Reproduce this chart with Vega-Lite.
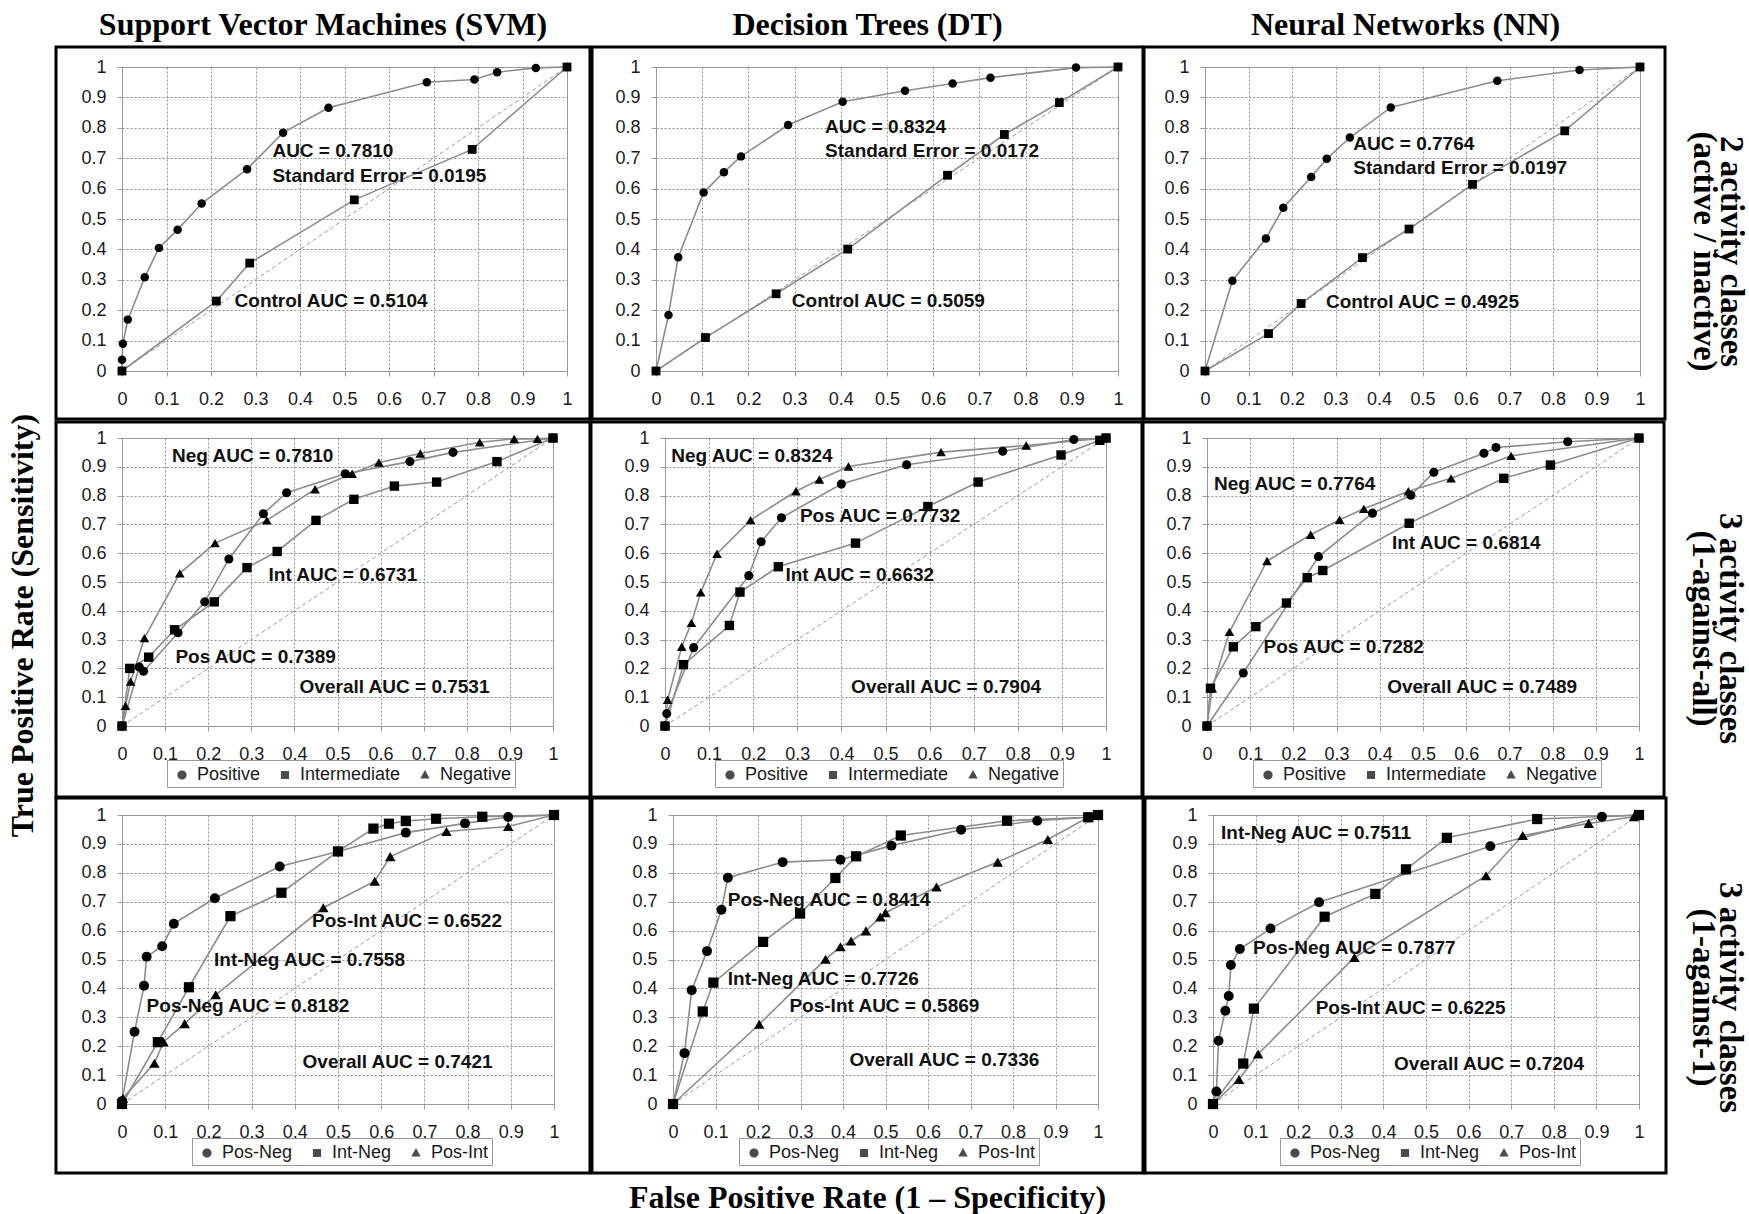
{
"$schema":"https://vega.github.io/schema/vega-lite/v6.json",
"padding":{"left":6,"top":8,"right":8,"bottom":0},
"background":"white",
"title":{"text":"True Positive Rate (Sensitivity)","orient":"left","anchor":"middle","offset":14,"dx":-14},
"config":{
 "view":{"stroke":"#a0a0a0","strokeWidth":1},
 "axis":{"labelFont":"Liberation Sans","labelFontSize":18,"labelColor":"#1a1a1a","tickColor":"#999","domainColor":"#999","gridColor":"#8f8f8f","gridDash":[2,2],"gridWidth":1},
 "legend":{"labelFont":"Liberation Sans","labelFontSize":18,"labelColor":"#1a1a1a","strokeColor":"#999","padding":3,"symbolSize":484,"symbolStrokeWidth":1.3,"symbolFillColor":"black","symbolStrokeColor":"black","columnPadding":10,"labelOffset":3},
 "title":{"font":"Liberation Serif","fontSize":32,"fontWeight":"bold","color":"black"},
 "text":{"font":"Liberation Sans","fontSize":19,"fontWeight":"bold","color":"#111","align":"left","baseline":"middle"}
},
"datasets":{
 "s2":[
  {"s":"Active","x":0,"y":0},{"s":"Active","x":0,"y":0.037},{"s":"Active","x":0.002,"y":0.09},{"s":"Active","x":0.013,"y":0.169},{"s":"Active","x":0.051,"y":0.308},{"s":"Active","x":0.083,"y":0.405},{"s":"Active","x":0.125,"y":0.465},{"s":"Active","x":0.179,"y":0.551},{"s":"Active","x":0.281,"y":0.664},{"s":"Active","x":0.362,"y":0.784},{"s":"Active","x":0.464,"y":0.866},{"s":"Active","x":0.685,"y":0.95},{"s":"Active","x":0.792,"y":0.959},{"s":"Active","x":0.843,"y":0.983},{"s":"Active","x":0.93,"y":0.997},{"s":"Active","x":1,"y":1},
  {"s":"Control","x":0,"y":0},{"s":"Control","x":0.212,"y":0.23},{"s":"Control","x":0.287,"y":0.355},{"s":"Control","x":0.522,"y":0.563},{"s":"Control","x":0.787,"y":0.729},{"s":"Control","x":1,"y":1}],
 "d2":[
  {"s":"Active","x":0,"y":0},{"s":"Active","x":0.027,"y":0.184},{"s":"Active","x":0.048,"y":0.374},{"s":"Active","x":0.103,"y":0.587},{"s":"Active","x":0.147,"y":0.654},{"s":"Active","x":0.184,"y":0.706},{"s":"Active","x":0.286,"y":0.809},{"s":"Active","x":0.404,"y":0.886},{"s":"Active","x":0.539,"y":0.922},{"s":"Active","x":0.642,"y":0.946},{"s":"Active","x":0.724,"y":0.965},{"s":"Active","x":0.909,"y":0.998},{"s":"Active","x":1,"y":1},
  {"s":"Control","x":0,"y":0},{"s":"Control","x":0.107,"y":0.11},{"s":"Control","x":0.26,"y":0.254},{"s":"Control","x":0.415,"y":0.401},{"s":"Control","x":0.631,"y":0.644},{"s":"Control","x":0.754,"y":0.778},{"s":"Control","x":0.873,"y":0.883},{"s":"Control","x":1,"y":1}],
 "n2":[
  {"s":"Active","x":0,"y":0},{"s":"Active","x":0.063,"y":0.297},{"s":"Active","x":0.14,"y":0.436},{"s":"Active","x":0.18,"y":0.537},{"s":"Active","x":0.244,"y":0.638},{"s":"Active","x":0.28,"y":0.698},{"s":"Active","x":0.333,"y":0.768},{"s":"Active","x":0.427,"y":0.867},{"s":"Active","x":0.672,"y":0.955},{"s":"Active","x":0.861,"y":0.99},{"s":"Active","x":1,"y":1},
  {"s":"Control","x":0,"y":0},{"s":"Control","x":0.146,"y":0.123},{"s":"Control","x":0.221,"y":0.222},{"s":"Control","x":0.362,"y":0.373},{"s":"Control","x":0.469,"y":0.467},{"s":"Control","x":0.615,"y":0.614},{"s":"Control","x":0.827,"y":0.79},{"s":"Control","x":1,"y":1}],
 "s3a":[
  {"s":"Positive","x":0,"y":0},{"s":"Positive","x":0.04,"y":0.205},{"s":"Positive","x":0.05,"y":0.19},{"s":"Positive","x":0.13,"y":0.324},{"s":"Positive","x":0.192,"y":0.431},{"s":"Positive","x":0.248,"y":0.58},{"s":"Positive","x":0.328,"y":0.737},{"s":"Positive","x":0.382,"y":0.81},{"s":"Positive","x":0.518,"y":0.876},{"s":"Positive","x":0.668,"y":0.918},{"s":"Positive","x":0.768,"y":0.95},{"s":"Positive","x":1,"y":1},
  {"s":"Intermediate","x":0,"y":0},{"s":"Intermediate","x":0.018,"y":0.2},{"s":"Intermediate","x":0.062,"y":0.239},{"s":"Intermediate","x":0.122,"y":0.334},{"s":"Intermediate","x":0.214,"y":0.431},{"s":"Intermediate","x":0.29,"y":0.55},{"s":"Intermediate","x":0.36,"y":0.606},{"s":"Intermediate","x":0.45,"y":0.714},{"s":"Intermediate","x":0.538,"y":0.787},{"s":"Intermediate","x":0.632,"y":0.833},{"s":"Intermediate","x":0.73,"y":0.847},{"s":"Intermediate","x":0.87,"y":0.918},{"s":"Intermediate","x":1,"y":1},
  {"s":"Negative","x":0,"y":0},{"s":"Negative","x":0.008,"y":0.07},{"s":"Negative","x":0.02,"y":0.154},{"s":"Negative","x":0.052,"y":0.305},{"s":"Negative","x":0.134,"y":0.53},{"s":"Negative","x":0.216,"y":0.635},{"s":"Negative","x":0.336,"y":0.714},{"s":"Negative","x":0.448,"y":0.822},{"s":"Negative","x":0.534,"y":0.876},{"s":"Negative","x":0.596,"y":0.915},{"s":"Negative","x":0.692,"y":0.946},{"s":"Negative","x":0.83,"y":0.985},{"s":"Negative","x":0.91,"y":0.997},{"s":"Negative","x":0.964,"y":0.997},{"s":"Negative","x":1,"y":1}],
 "d3a":[
  {"s":"Positive","x":0,"y":0},{"s":"Positive","x":0.004,"y":0.043},{"s":"Positive","x":0.065,"y":0.272},{"s":"Positive","x":0.19,"y":0.522},{"s":"Positive","x":0.218,"y":0.64},{"s":"Positive","x":0.264,"y":0.723},{"s":"Positive","x":0.4,"y":0.84},{"s":"Positive","x":0.548,"y":0.907},{"s":"Positive","x":0.766,"y":0.954},{"s":"Positive","x":0.927,"y":0.995},{"s":"Positive","x":1,"y":1},
  {"s":"Intermediate","x":0,"y":0},{"s":"Intermediate","x":0.042,"y":0.213},{"s":"Intermediate","x":0.146,"y":0.349},{"s":"Intermediate","x":0.17,"y":0.465},{"s":"Intermediate","x":0.257,"y":0.553},{"s":"Intermediate","x":0.432,"y":0.635},{"s":"Intermediate","x":0.596,"y":0.762},{"s":"Intermediate","x":0.71,"y":0.847},{"s":"Intermediate","x":0.898,"y":0.941},{"s":"Intermediate","x":0.986,"y":0.992},{"s":"Intermediate","x":1,"y":1},
  {"s":"Negative","x":0,"y":0},{"s":"Negative","x":0.006,"y":0.091},{"s":"Negative","x":0.038,"y":0.275},{"s":"Negative","x":0.06,"y":0.358},{"s":"Negative","x":0.081,"y":0.464},{"s":"Negative","x":0.118,"y":0.598},{"s":"Negative","x":0.194,"y":0.715},{"s":"Negative","x":0.297,"y":0.815},{"s":"Negative","x":0.35,"y":0.856},{"s":"Negative","x":0.416,"y":0.901},{"s":"Negative","x":0.626,"y":0.951},{"s":"Negative","x":0.819,"y":0.974},{"s":"Negative","x":1,"y":1}],
 "n3a":[
  {"s":"Positive","x":0,"y":0},{"s":"Positive","x":0.084,"y":0.184},{"s":"Positive","x":0.258,"y":0.588},{"s":"Positive","x":0.383,"y":0.739},{"s":"Positive","x":0.472,"y":0.801},{"s":"Positive","x":0.525,"y":0.881},{"s":"Positive","x":0.641,"y":0.947},{"s":"Positive","x":0.669,"y":0.967},{"s":"Positive","x":0.835,"y":0.987},{"s":"Positive","x":1,"y":1},
  {"s":"Intermediate","x":0,"y":0},{"s":"Intermediate","x":0.008,"y":0.131},{"s":"Intermediate","x":0.061,"y":0.275},{"s":"Intermediate","x":0.113,"y":0.345},{"s":"Intermediate","x":0.184,"y":0.427},{"s":"Intermediate","x":0.232,"y":0.515},{"s":"Intermediate","x":0.268,"y":0.54},{"s":"Intermediate","x":0.468,"y":0.704},{"s":"Intermediate","x":0.687,"y":0.86},{"s":"Intermediate","x":0.795,"y":0.906},{"s":"Intermediate","x":1,"y":1},
  {"s":"Negative","x":0,"y":0},{"s":"Negative","x":0.012,"y":0.131},{"s":"Negative","x":0.052,"y":0.327},{"s":"Negative","x":0.139,"y":0.573},{"s":"Negative","x":0.24,"y":0.664},{"s":"Negative","x":0.307,"y":0.716},{"s":"Negative","x":0.363,"y":0.754},{"s":"Negative","x":0.466,"y":0.815},{"s":"Negative","x":0.565,"y":0.86},{"s":"Negative","x":0.704,"y":0.938},{"s":"Negative","x":1,"y":1}],
 "s3b":[
  {"s":"Pos-Neg","x":0,"y":0},{"s":"Pos-Neg","x":0,"y":0.01},{"s":"Pos-Neg","x":0.029,"y":0.25},{"s":"Pos-Neg","x":0.051,"y":0.409},{"s":"Pos-Neg","x":0.057,"y":0.51},{"s":"Pos-Neg","x":0.093,"y":0.546},{"s":"Pos-Neg","x":0.12,"y":0.624},{"s":"Pos-Neg","x":0.215,"y":0.712},{"s":"Pos-Neg","x":0.365,"y":0.822},{"s":"Pos-Neg","x":0.5,"y":0.874},{"s":"Pos-Neg","x":0.657,"y":0.939},{"s":"Pos-Neg","x":0.794,"y":0.971},{"s":"Pos-Neg","x":0.894,"y":0.993},{"s":"Pos-Neg","x":1,"y":1},
  {"s":"Int-Neg","x":0,"y":0},{"s":"Int-Neg","x":0.083,"y":0.214},{"s":"Int-Neg","x":0.155,"y":0.404},{"s":"Int-Neg","x":0.251,"y":0.65},{"s":"Int-Neg","x":0.369,"y":0.731},{"s":"Int-Neg","x":0.5,"y":0.874},{"s":"Int-Neg","x":0.582,"y":0.953},{"s":"Int-Neg","x":0.618,"y":0.97},{"s":"Int-Neg","x":0.657,"y":0.979},{"s":"Int-Neg","x":0.727,"y":0.987},{"s":"Int-Neg","x":0.834,"y":0.994},{"s":"Int-Neg","x":1,"y":1},
  {"s":"Pos-Int","x":0,"y":0},{"s":"Pos-Int","x":0.002,"y":0.02},{"s":"Pos-Int","x":0.075,"y":0.141},{"s":"Pos-Int","x":0.096,"y":0.215},{"s":"Pos-Int","x":0.145,"y":0.278},{"s":"Pos-Int","x":0.217,"y":0.378},{"s":"Pos-Int","x":0.466,"y":0.679},{"s":"Pos-Int","x":0.585,"y":0.771},{"s":"Pos-Int","x":0.621,"y":0.856},{"s":"Pos-Int","x":0.751,"y":0.943},{"s":"Pos-Int","x":0.894,"y":0.96},{"s":"Pos-Int","x":1,"y":1}],
 "d3b":[
  {"s":"Pos-Neg","x":0,"y":0},{"s":"Pos-Neg","x":0.027,"y":0.176},{"s":"Pos-Neg","x":0.044,"y":0.394},{"s":"Pos-Neg","x":0.08,"y":0.529},{"s":"Pos-Neg","x":0.114,"y":0.672},{"s":"Pos-Neg","x":0.129,"y":0.783},{"s":"Pos-Neg","x":0.258,"y":0.837},{"s":"Pos-Neg","x":0.394,"y":0.845},{"s":"Pos-Neg","x":0.514,"y":0.894},{"s":"Pos-Neg","x":0.678,"y":0.949},{"s":"Pos-Neg","x":0.857,"y":0.98},{"s":"Pos-Neg","x":0.977,"y":0.992},{"s":"Pos-Neg","x":1,"y":1},
  {"s":"Int-Neg","x":0,"y":0},{"s":"Int-Neg","x":0.07,"y":0.32},{"s":"Int-Neg","x":0.095,"y":0.42},{"s":"Int-Neg","x":0.212,"y":0.561},{"s":"Int-Neg","x":0.299,"y":0.659},{"s":"Int-Neg","x":0.382,"y":0.782},{"s":"Int-Neg","x":0.431,"y":0.857},{"s":"Int-Neg","x":0.536,"y":0.929},{"s":"Int-Neg","x":0.786,"y":0.98},{"s":"Int-Neg","x":0.977,"y":0.992},{"s":"Int-Neg","x":1,"y":1},
  {"s":"Pos-Int","x":0,"y":0},{"s":"Pos-Int","x":0.203,"y":0.276},{"s":"Pos-Int","x":0.359,"y":0.501},{"s":"Pos-Int","x":0.394,"y":0.544},{"s":"Pos-Int","x":0.419,"y":0.564},{"s":"Pos-Int","x":0.454,"y":0.599},{"s":"Pos-Int","x":0.488,"y":0.647},{"s":"Pos-Int","x":0.5,"y":0.662},{"s":"Pos-Int","x":0.62,"y":0.751},{"s":"Pos-Int","x":0.764,"y":0.837},{"s":"Pos-Int","x":0.882,"y":0.915},{"s":"Pos-Int","x":0.977,"y":0.992},{"s":"Pos-Int","x":1,"y":1}],
 "n3b":[
  {"s":"Pos-Neg","x":0,"y":0},{"s":"Pos-Neg","x":0.008,"y":0.043},{"s":"Pos-Neg","x":0.013,"y":0.219},{"s":"Pos-Neg","x":0.029,"y":0.323},{"s":"Pos-Neg","x":0.037,"y":0.374},{"s":"Pos-Neg","x":0.042,"y":0.481},{"s":"Pos-Neg","x":0.063,"y":0.536},{"s":"Pos-Neg","x":0.135,"y":0.607},{"s":"Pos-Neg","x":0.249,"y":0.698},{"s":"Pos-Neg","x":0.651,"y":0.892},{"s":"Pos-Neg","x":0.913,"y":0.994},{"s":"Pos-Neg","x":1,"y":1},
  {"s":"Int-Neg","x":0,"y":0},{"s":"Int-Neg","x":0.071,"y":0.14},{"s":"Int-Neg","x":0.096,"y":0.33},{"s":"Int-Neg","x":0.262,"y":0.648},{"s":"Int-Neg","x":0.381,"y":0.727},{"s":"Int-Neg","x":0.453,"y":0.812},{"s":"Int-Neg","x":0.549,"y":0.921},{"s":"Int-Neg","x":0.761,"y":0.986},{"s":"Int-Neg","x":1,"y":1},
  {"s":"Pos-Int","x":0,"y":0},{"s":"Pos-Int","x":0.061,"y":0.085},{"s":"Pos-Int","x":0.106,"y":0.173},{"s":"Pos-Int","x":0.332,"y":0.507},{"s":"Pos-Int","x":0.641,"y":0.79},{"s":"Pos-Int","x":0.727,"y":0.929},{"s":"Pos-Int","x":0.882,"y":0.971},{"s":"Pos-Int","x":0.988,"y":0.994},{"s":"Pos-Int","x":1,"y":1}]
},
"spacing":-3,
"vconcat":[
 {"spacing":-3,"hconcat":[
  {"width":445,"height":304,"title":{"text":"Support Vector Machines (SVM)","frame":"bounds","offset":3},
   "data":{"name":"s2"},
   "resolve":{"axis":{"x":"independent","y":"independent"}},
   "layer":[
    {"data":{"values":[{}]},"mark":{"type":"rect","filled":false,"color":"black","strokeWidth":3,"clip":false},
     "encoding":{"x":{"datum":-0.1483,"type":"quantitative","axis":null},"x2":{"datum":1.0517},"y":{"datum":1.0658,"type":"quantitative","axis":null},"y2":{"datum":-0.1579}}},
    {"data":{"values":[{}]},"mark":{"type":"rule","color":"#999","strokeDash":[4,3],"strokeWidth":1},
     "encoding":{"x":{"datum":0,"type":"quantitative","axis":null},"y":{"datum":0,"type":"quantitative","axis":null},"x2":{"datum":1},"y2":{"datum":1}}},
    {"mark":{"type":"line","color":"#8c8c8c","strokeWidth":1.6},
     "encoding":{"x":{"field":"x","type":"quantitative","scale":{"domain":[0,1],"nice":false,"zero":false},"axis":{"values":[0,0.1,0.2,0.3,0.4,0.5,0.6,0.7,0.8,0.9,1],"format":".1~f","title":null,"grid":true,"labelFlush":false,"labelOverlap":false,"tickSize":5,"labelPadding":14}},
      "y":{"field":"y","type":"quantitative","scale":{"domain":[0,1],"nice":false,"zero":false},"axis":{"values":[0,0.1,0.2,0.3,0.4,0.5,0.6,0.7,0.8,0.9,1],"format":".1~f","title":null,"grid":true,"labelFlush":false,"labelOverlap":false,"tickSize":5,"labelPadding":11}},
      "detail":{"field":"s"},"order":[{"field":"x"},{"field":"y"}]}},
    {"mark":{"type":"point","filled":true,"color":"black","opacity":1},
     "encoding":{"x":{"field":"x","type":"quantitative","axis":null},"y":{"field":"y","type":"quantitative","axis":null},
      "shape":{"field":"s","scale":{"domain":["Active","Control"],"range":["circle","square"]},"legend":null},
      "size":{"field":"s","scale":{"domain":["Active","Control"],"range":[72,110]},"legend":null}}},
    {"data":{"values":[{}]},"mark":{"type":"text"},"encoding":{"x":{"datum":0.338,"type":"quantitative","axis":null},"y":{"datum":0.723,"type":"quantitative","axis":null},"text":{"value":"AUC = 0.7810"}}},
    {"data":{"values":[{}]},"mark":{"type":"text"},"encoding":{"x":{"datum":0.338,"type":"quantitative","axis":null},"y":{"datum":0.642,"type":"quantitative","axis":null},"text":{"value":"Standard Error = 0.0195"}}},
    {"data":{"values":[{}]},"mark":{"type":"text"},"encoding":{"x":{"datum":0.253,"type":"quantitative","axis":null},"y":{"datum":0.23,"type":"quantitative","axis":null},"text":{"value":"Control AUC = 0.5104"}}}
   ]},
  {"width":462,"height":304,"title":{"text":"Decision Trees (DT)","frame":"bounds","offset":3},
   "data":{"name":"d2"},
   "resolve":{"axis":{"x":"independent","y":"independent"}},
   "layer":[
    {"data":{"values":[{}]},"mark":{"type":"rect","filled":false,"color":"black","strokeWidth":3,"clip":false},
     "encoding":{"x":{"datum":-0.1385,"type":"quantitative","axis":null},"x2":{"datum":1.0541},"y":{"datum":1.0658,"type":"quantitative","axis":null},"y2":{"datum":-0.1579}}},
    {"data":{"values":[{}]},"mark":{"type":"rule","color":"#999","strokeDash":[4,3],"strokeWidth":1},
     "encoding":{"x":{"datum":0,"type":"quantitative","axis":null},"y":{"datum":0,"type":"quantitative","axis":null},"x2":{"datum":1},"y2":{"datum":1}}},
    {"mark":{"type":"line","color":"#8c8c8c","strokeWidth":1.6},
     "encoding":{"x":{"field":"x","type":"quantitative","scale":{"domain":[0,1],"nice":false,"zero":false},"axis":{"values":[0,0.1,0.2,0.3,0.4,0.5,0.6,0.7,0.8,0.9,1],"format":".1~f","title":null,"grid":true,"labelFlush":false,"labelOverlap":false,"tickSize":5,"labelPadding":14}},
      "y":{"field":"y","type":"quantitative","scale":{"domain":[0,1],"nice":false,"zero":false},"axis":{"values":[0,0.1,0.2,0.3,0.4,0.5,0.6,0.7,0.8,0.9,1],"format":".1~f","title":null,"grid":true,"labelFlush":false,"labelOverlap":false,"tickSize":5,"labelPadding":11}},
      "detail":{"field":"s"},"order":[{"field":"x"},{"field":"y"}]}},
    {"mark":{"type":"point","filled":true,"color":"black","opacity":1},
     "encoding":{"x":{"field":"x","type":"quantitative","axis":null},"y":{"field":"y","type":"quantitative","axis":null},
      "shape":{"field":"s","scale":{"domain":["Active","Control"],"range":["circle","square"]},"legend":null},
      "size":{"field":"s","scale":{"domain":["Active","Control"],"range":[72,110]},"legend":null}}},
    {"data":{"values":[{}]},"mark":{"type":"text"},"encoding":{"x":{"datum":0.366,"type":"quantitative","axis":null},"y":{"datum":0.803,"type":"quantitative","axis":null},"text":{"value":"AUC = 0.8324"}}},
    {"data":{"values":[{}]},"mark":{"type":"text"},"encoding":{"x":{"datum":0.366,"type":"quantitative","axis":null},"y":{"datum":0.725,"type":"quantitative","axis":null},"text":{"value":"Standard Error = 0.0172"}}},
    {"data":{"values":[{}]},"mark":{"type":"text"},"encoding":{"x":{"datum":0.294,"type":"quantitative","axis":null},"y":{"datum":0.23,"type":"quantitative","axis":null},"text":{"value":"Control AUC = 0.5059"}}}
   ]},
  {"width":435,"height":304,"title":{"text":"Neural Networks (NN)","frame":"group","dx":-17,"offset":3},
   "data":{"name":"n2"},
   "resolve":{"axis":{"x":"independent","y":"independent"}},
   "layer":[
    {"data":{"values":[{}]},"mark":{"type":"rect","filled":false,"color":"black","strokeWidth":3,"clip":false},
     "encoding":{"x":{"datum":-0.1402,"type":"quantitative","axis":null},"x2":{"datum":1.0575},"y":{"datum":1.0658,"type":"quantitative","axis":null},"y2":{"datum":-0.1579}}},
    {"data":{"values":[{}]},"mark":{"type":"rule","color":"#999","strokeDash":[4,3],"strokeWidth":1},
     "encoding":{"x":{"datum":0,"type":"quantitative","axis":null},"y":{"datum":0,"type":"quantitative","axis":{"orient":"right","title":["2 activity classes","(active / inactive)"],"titleFont":"Liberation Serif","titleFontSize":33,"titleFontWeight":"bold","titleColor":"black","titleAngle":90,"titlePadding":46,"titleLineHeight":27,"titleY":184,"labels":false,"ticks":false,"domain":false,"grid":false}},"x2":{"datum":1},"y2":{"datum":1}}},
    {"mark":{"type":"line","color":"#8c8c8c","strokeWidth":1.6},
     "encoding":{"x":{"field":"x","type":"quantitative","scale":{"domain":[0,1],"nice":false,"zero":false},"axis":{"values":[0,0.1,0.2,0.3,0.4,0.5,0.6,0.7,0.8,0.9,1],"format":".1~f","title":null,"grid":true,"labelFlush":false,"labelOverlap":false,"tickSize":5,"labelPadding":14}},
      "y":{"field":"y","type":"quantitative","scale":{"domain":[0,1],"nice":false,"zero":false},"axis":{"values":[0,0.1,0.2,0.3,0.4,0.5,0.6,0.7,0.8,0.9,1],"format":".1~f","title":null,"grid":true,"labelFlush":false,"labelOverlap":false,"tickSize":5,"labelPadding":11}},
      "detail":{"field":"s"},"order":[{"field":"x"},{"field":"y"}]}},
    {"mark":{"type":"point","filled":true,"color":"black","opacity":1},
     "encoding":{"x":{"field":"x","type":"quantitative","axis":null},"y":{"field":"y","type":"quantitative","axis":null},
      "shape":{"field":"s","scale":{"domain":["Active","Control"],"range":["circle","square"]},"legend":null},
      "size":{"field":"s","scale":{"domain":["Active","Control"],"range":[72,110]},"legend":null}}},
    {"data":{"values":[{}]},"mark":{"type":"text"},"encoding":{"x":{"datum":0.341,"type":"quantitative","axis":null},"y":{"datum":0.747,"type":"quantitative","axis":null},"text":{"value":"AUC = 0.7764"}}},
    {"data":{"values":[{}]},"mark":{"type":"text"},"encoding":{"x":{"datum":0.341,"type":"quantitative","axis":null},"y":{"datum":0.667,"type":"quantitative","axis":null},"text":{"value":"Standard Error = 0.0197"}}},
    {"data":{"values":[{}]},"mark":{"type":"text"},"encoding":{"x":{"datum":0.278,"type":"quantitative","axis":null},"y":{"datum":0.227,"type":"quantitative","axis":null},"text":{"value":"Control AUC = 0.4925"}}}
   ]}
 ]},
 {"spacing":-3,"hconcat":[
  {"width":431,"height":288,
   "data":{"name":"s3a"},
   "resolve":{"scale":{"shape":"independent"},"axis":{"x":"independent","y":"independent"}},
   "layer":[
    {"data":{"values":[{}]},"mark":{"type":"rect","filled":false,"color":"black","strokeWidth":3,"clip":false},
     "encoding":{"x":{"datum":-0.1531,"type":"quantitative","axis":null},"x2":{"datum":1.0858},"y":{"datum":1.0556,"type":"quantitative","axis":null},"y2":{"datum":-0.2465}}},
    {"data":{"values":[{}]},"mark":{"type":"rule","color":"#999","strokeDash":[4,3],"strokeWidth":1},
     "encoding":{"x":{"datum":0,"type":"quantitative","axis":null},"y":{"datum":0,"type":"quantitative","axis":null},"x2":{"datum":1},"y2":{"datum":1}}},
    {"mark":{"type":"line","color":"#8c8c8c","strokeWidth":1.6},
     "encoding":{"x":{"field":"x","type":"quantitative","scale":{"domain":[0,1],"nice":false,"zero":false},"axis":{"values":[0,0.1,0.2,0.3,0.4,0.5,0.6,0.7,0.8,0.9,1],"format":".1~f","title":null,"grid":true,"labelFlush":false,"labelOverlap":false,"tickSize":5,"labelPadding":14}},
      "y":{"field":"y","type":"quantitative","scale":{"domain":[0,1],"nice":false,"zero":false},"axis":{"values":[0,0.1,0.2,0.3,0.4,0.5,0.6,0.7,0.8,0.9,1],"format":".1~f","title":null,"grid":true,"labelFlush":false,"labelOverlap":false,"tickSize":5,"labelPadding":11}},
      "detail":{"field":"s"},"order":[{"field":"x"},{"field":"y"}]}},
    {"mark":{"type":"point","filled":true,"color":"black","opacity":1},
     "encoding":{"x":{"field":"x","type":"quantitative","axis":null},"y":{"field":"y","type":"quantitative","axis":null},
      "shape":{"field":"s","scale":{"domain":["Positive","Intermediate","Negative"],"range":["circle","square","triangle-up"]},"legend":null},
      "size":{"field":"s","scale":{"domain":["Positive","Intermediate","Negative"],"range":[68,75,90]},"legend":null}}},
    {"transform":[{"filter":"datum.x > 1"}],"mark":{"type":"point","filled":true,"color":"black","stroke":"black","strokeWidth":1.2},
     "encoding":{"x":{"field":"x","type":"quantitative","axis":null},"y":{"field":"y","type":"quantitative","axis":null},
      "shape":{"field":"s","scale":{"domain":["Positive","Intermediate","Negative"],"range":["M-1,0H1M0.42,0A0.42,0.42,0,1,1,-0.42,0A0.42,0.42,0,1,1,0.42,0Z","M-1,0H1M-0.37,-0.37H0.37V0.37H-0.37Z","M-1,0H1M0,-0.45L0.43,0.31L-0.43,0.31Z"]},
       "legend":{"orient":"none","legendX":45,"legendY":322,"direction":"horizontal","title":null,"symbolSize":484,"encode":{"symbols":{"update":{"size":{"value":484},"stroke":{"value":"black"},"fill":{"value":"black"},"strokeWidth":{"value":1.3},"opacity":{"value":1}}}}}}}},
    {"data":{"values":[{}]},"mark":{"type":"text"},"encoding":{"x":{"datum":0.116,"type":"quantitative","axis":null},"y":{"datum":0.938,"type":"quantitative","axis":null},"text":{"value":"Neg AUC = 0.7810"}}},
    {"data":{"values":[{}]},"mark":{"type":"text"},"encoding":{"x":{"datum":0.34,"type":"quantitative","axis":null},"y":{"datum":0.524,"type":"quantitative","axis":null},"text":{"value":"Int AUC = 0.6731"}}},
    {"data":{"values":[{}]},"mark":{"type":"text"},"encoding":{"x":{"datum":0.124,"type":"quantitative","axis":null},"y":{"datum":0.239,"type":"quantitative","axis":null},"text":{"value":"Pos AUC = 0.7389"}}},
    {"data":{"values":[{}]},"mark":{"type":"text"},"encoding":{"x":{"datum":0.412,"type":"quantitative","axis":null},"y":{"datum":0.134,"type":"quantitative","axis":null},"text":{"value":"Overall AUC = 0.7531"}}}
   ]},
  {"width":441,"height":288,
   "data":{"name":"d3a"},
   "resolve":{"scale":{"shape":"independent"},"axis":{"x":"independent","y":"independent"}},
   "layer":[
    {"data":{"values":[{}]},"mark":{"type":"rect","filled":false,"color":"black","strokeWidth":3,"clip":false},
     "encoding":{"x":{"datum":-0.1678,"type":"quantitative","axis":null},"x2":{"datum":1.0816},"y":{"datum":1.0556,"type":"quantitative","axis":null},"y2":{"datum":-0.2465}}},
    {"data":{"values":[{}]},"mark":{"type":"rule","color":"#999","strokeDash":[4,3],"strokeWidth":1},
     "encoding":{"x":{"datum":0,"type":"quantitative","axis":null},"y":{"datum":0,"type":"quantitative","axis":null},"x2":{"datum":1},"y2":{"datum":1}}},
    {"mark":{"type":"line","color":"#8c8c8c","strokeWidth":1.6},
     "encoding":{"x":{"field":"x","type":"quantitative","scale":{"domain":[0,1],"nice":false,"zero":false},"axis":{"values":[0,0.1,0.2,0.3,0.4,0.5,0.6,0.7,0.8,0.9,1],"format":".1~f","title":null,"grid":true,"labelFlush":false,"labelOverlap":false,"tickSize":5,"labelPadding":14}},
      "y":{"field":"y","type":"quantitative","scale":{"domain":[0,1],"nice":false,"zero":false},"axis":{"values":[0,0.1,0.2,0.3,0.4,0.5,0.6,0.7,0.8,0.9,1],"format":".1~f","title":null,"grid":true,"labelFlush":false,"labelOverlap":false,"tickSize":5,"labelPadding":11}},
      "detail":{"field":"s"},"order":[{"field":"x"},{"field":"y"}]}},
    {"mark":{"type":"point","filled":true,"color":"black","opacity":1},
     "encoding":{"x":{"field":"x","type":"quantitative","axis":null},"y":{"field":"y","type":"quantitative","axis":null},
      "shape":{"field":"s","scale":{"domain":["Positive","Intermediate","Negative"],"range":["circle","square","triangle-up"]},"legend":null},
      "size":{"field":"s","scale":{"domain":["Positive","Intermediate","Negative"],"range":[68,75,90]},"legend":null}}},
    {"transform":[{"filter":"datum.x > 1"}],"mark":{"type":"point","filled":true,"color":"black","stroke":"black","strokeWidth":1.2},
     "encoding":{"x":{"field":"x","type":"quantitative","axis":null},"y":{"field":"y","type":"quantitative","axis":null},
      "shape":{"field":"s","scale":{"domain":["Positive","Intermediate","Negative"],"range":["M-1,0H1M0.42,0A0.42,0.42,0,1,1,-0.42,0A0.42,0.42,0,1,1,0.42,0Z","M-1,0H1M-0.37,-0.37H0.37V0.37H-0.37Z","M-1,0H1M0,-0.45L0.43,0.31L-0.43,0.31Z"]},
       "legend":{"orient":"none","legendX":50,"legendY":322,"direction":"horizontal","title":null,"symbolSize":484,"encode":{"symbols":{"update":{"size":{"value":484},"stroke":{"value":"black"},"fill":{"value":"black"},"strokeWidth":{"value":1.3},"opacity":{"value":1}}}}}}}},
    {"data":{"values":[{}]},"mark":{"type":"text"},"encoding":{"x":{"datum":0.014,"type":"quantitative","axis":null},"y":{"datum":0.938,"type":"quantitative","axis":null},"text":{"value":"Neg AUC = 0.8324"}}},
    {"data":{"values":[{}]},"mark":{"type":"text"},"encoding":{"x":{"datum":0.306,"type":"quantitative","axis":null},"y":{"datum":0.728,"type":"quantitative","axis":null},"text":{"value":"Pos AUC = 0.7732"}}},
    {"data":{"values":[{}]},"mark":{"type":"text"},"encoding":{"x":{"datum":0.273,"type":"quantitative","axis":null},"y":{"datum":0.524,"type":"quantitative","axis":null},"text":{"value":"Int AUC = 0.6632"}}},
    {"data":{"values":[{}]},"mark":{"type":"text"},"encoding":{"x":{"datum":0.422,"type":"quantitative","axis":null},"y":{"datum":0.136,"type":"quantitative","axis":null},"text":{"value":"Overall AUC = 0.7904"}}}
   ]},
  {"width":432,"height":288,
   "data":{"name":"n3a"},
   "resolve":{"scale":{"shape":"independent"},"axis":{"x":"independent","y":"independent"}},
   "layer":[
    {"data":{"values":[{}]},"mark":{"type":"rect","filled":false,"color":"black","strokeWidth":3,"clip":false},
     "encoding":{"x":{"datum":-0.1481,"type":"quantitative","axis":null},"x2":{"datum":1.0579},"y":{"datum":1.0556,"type":"quantitative","axis":null},"y2":{"datum":-0.2465}}},
    {"data":{"values":[{}]},"mark":{"type":"rule","color":"#999","strokeDash":[4,3],"strokeWidth":1},
     "encoding":{"x":{"datum":0,"type":"quantitative","axis":null},"y":{"datum":0,"type":"quantitative","axis":{"orient":"right","title":["3 activity classes","(1-against-all)"],"titleFont":"Liberation Serif","titleFontSize":33,"titleFontWeight":"bold","titleColor":"black","titleAngle":90,"titlePadding":46,"titleLineHeight":27,"titleY":190,"labels":false,"ticks":false,"domain":false,"grid":false}},"x2":{"datum":1},"y2":{"datum":1}}},
    {"mark":{"type":"line","color":"#8c8c8c","strokeWidth":1.6},
     "encoding":{"x":{"field":"x","type":"quantitative","scale":{"domain":[0,1],"nice":false,"zero":false},"axis":{"values":[0,0.1,0.2,0.3,0.4,0.5,0.6,0.7,0.8,0.9,1],"format":".1~f","title":null,"grid":true,"labelFlush":false,"labelOverlap":false,"tickSize":5,"labelPadding":14}},
      "y":{"field":"y","type":"quantitative","scale":{"domain":[0,1],"nice":false,"zero":false},"axis":{"values":[0,0.1,0.2,0.3,0.4,0.5,0.6,0.7,0.8,0.9,1],"format":".1~f","title":null,"grid":true,"labelFlush":false,"labelOverlap":false,"tickSize":5,"labelPadding":11}},
      "detail":{"field":"s"},"order":[{"field":"x"},{"field":"y"}]}},
    {"mark":{"type":"point","filled":true,"color":"black","opacity":1},
     "encoding":{"x":{"field":"x","type":"quantitative","axis":null},"y":{"field":"y","type":"quantitative","axis":null},
      "shape":{"field":"s","scale":{"domain":["Positive","Intermediate","Negative"],"range":["circle","square","triangle-up"]},"legend":null},
      "size":{"field":"s","scale":{"domain":["Positive","Intermediate","Negative"],"range":[68,75,90]},"legend":null}}},
    {"transform":[{"filter":"datum.x > 1"}],"mark":{"type":"point","filled":true,"color":"black","stroke":"black","strokeWidth":1.2},
     "encoding":{"x":{"field":"x","type":"quantitative","axis":null},"y":{"field":"y","type":"quantitative","axis":null},
      "shape":{"field":"s","scale":{"domain":["Positive","Intermediate","Negative"],"range":["M-1,0H1M0.42,0A0.42,0.42,0,1,1,-0.42,0A0.42,0.42,0,1,1,0.42,0Z","M-1,0H1M-0.37,-0.37H0.37V0.37H-0.37Z","M-1,0H1M0,-0.45L0.43,0.31L-0.43,0.31Z"]},
       "legend":{"orient":"none","legendX":46,"legendY":322,"direction":"horizontal","title":null,"symbolSize":484,"encode":{"symbols":{"update":{"size":{"value":484},"stroke":{"value":"black"},"fill":{"value":"black"},"strokeWidth":{"value":1.3},"opacity":{"value":1}}}}}}}},
    {"data":{"values":[{}]},"mark":{"type":"text"},"encoding":{"x":{"datum":0.016,"type":"quantitative","axis":null},"y":{"datum":0.84,"type":"quantitative","axis":null},"text":{"value":"Neg AUC = 0.7764"}}},
    {"data":{"values":[{}]},"mark":{"type":"text"},"encoding":{"x":{"datum":0.428,"type":"quantitative","axis":null},"y":{"datum":0.637,"type":"quantitative","axis":null},"text":{"value":"Int AUC = 0.6814"}}},
    {"data":{"values":[{}]},"mark":{"type":"text"},"encoding":{"x":{"datum":0.131,"type":"quantitative","axis":null},"y":{"datum":0.273,"type":"quantitative","axis":null},"text":{"value":"Pos AUC = 0.7282"}}},
    {"data":{"values":[{}]},"mark":{"type":"text"},"encoding":{"x":{"datum":0.417,"type":"quantitative","axis":null},"y":{"datum":0.135,"type":"quantitative","axis":null},"text":{"value":"Overall AUC = 0.7489"}}}
   ]}
 ]},
 {"spacing":-3,"hconcat":[
  {"width":432,"height":289,
   "data":{"name":"s3b"},
   "resolve":{"scale":{"shape":"independent"},"axis":{"x":"independent","y":"independent"}},
   "layer":[
    {"data":{"values":[{}]},"mark":{"type":"rect","filled":false,"color":"black","strokeWidth":3,"clip":false},
     "encoding":{"x":{"datum":-0.1528,"type":"quantitative","axis":null},"x2":{"datum":1.0833},"y":{"datum":1.0588,"type":"quantitative","axis":null},"y2":{"datum":-0.2388}}},
    {"data":{"values":[{}]},"mark":{"type":"rule","color":"#999","strokeDash":[4,3],"strokeWidth":1},
     "encoding":{"x":{"datum":0,"type":"quantitative","axis":null},"y":{"datum":0,"type":"quantitative","axis":null},"x2":{"datum":1},"y2":{"datum":1}}},
    {"mark":{"type":"line","color":"#8c8c8c","strokeWidth":1.6},
     "encoding":{"x":{"field":"x","type":"quantitative","scale":{"domain":[0,1],"nice":false,"zero":false},"axis":{"values":[0,0.1,0.2,0.3,0.4,0.5,0.6,0.7,0.8,0.9,1],"format":".1~f","title":null,"grid":true,"labelFlush":false,"labelOverlap":false,"tickSize":5,"labelPadding":14}},
      "y":{"field":"y","type":"quantitative","scale":{"domain":[0,1],"nice":false,"zero":false},"axis":{"values":[0,0.1,0.2,0.3,0.4,0.5,0.6,0.7,0.8,0.9,1],"format":".1~f","title":null,"grid":true,"labelFlush":false,"labelOverlap":false,"tickSize":5,"labelPadding":11}},
      "detail":{"field":"s"},"order":[{"field":"x"},{"field":"y"}]}},
    {"mark":{"type":"point","filled":true,"color":"black","opacity":1},
     "encoding":{"x":{"field":"x","type":"quantitative","axis":null},"y":{"field":"y","type":"quantitative","axis":null},
      "shape":{"field":"s","scale":{"domain":["Pos-Neg","Int-Neg","Pos-Int"],"range":["circle","square","triangle-up"]},"legend":null},
      "size":{"field":"s","scale":{"domain":["Pos-Neg","Int-Neg","Pos-Int"],"range":[68,75,90]},"legend":null}}},
    {"transform":[{"filter":"datum.x > 1"}],"mark":{"type":"point","filled":true,"color":"black","stroke":"black","strokeWidth":1.2},
     "encoding":{"x":{"field":"x","type":"quantitative","axis":null},"y":{"field":"y","type":"quantitative","axis":null},
      "shape":{"field":"s","scale":{"domain":["Pos-Neg","Int-Neg","Pos-Int"],"range":["M-1,0H1M0.42,0A0.42,0.42,0,1,1,-0.42,0A0.42,0.42,0,1,1,0.42,0Z","M-1,0H1M-0.37,-0.37H0.37V0.37H-0.37Z","M-1,0H1M0,-0.45L0.43,0.31L-0.43,0.31Z"]},
       "legend":{"orient":"none","legendX":70,"legendY":323,"direction":"horizontal","title":null,"symbolSize":484,"encode":{"symbols":{"update":{"size":{"value":484},"stroke":{"value":"black"},"fill":{"value":"black"},"strokeWidth":{"value":1.3},"opacity":{"value":1}}}}}}}},
    {"data":{"values":[{}]},"mark":{"type":"text"},"encoding":{"x":{"datum":0.44,"type":"quantitative","axis":null},"y":{"datum":0.633,"type":"quantitative","axis":null},"text":{"value":"Pos-Int AUC = 0.6522"}}},
    {"data":{"values":[{}]},"mark":{"type":"text"},"encoding":{"x":{"datum":0.213,"type":"quantitative","axis":null},"y":{"datum":0.498,"type":"quantitative","axis":null},"text":{"value":"Int-Neg AUC = 0.7558"}}},
    {"data":{"values":[{}]},"mark":{"type":"text"},"encoding":{"x":{"datum":0.057,"type":"quantitative","axis":null},"y":{"datum":0.338,"type":"quantitative","axis":null},"text":{"value":"Pos-Neg AUC = 0.8182"}}},
    {"data":{"values":[{}]},"mark":{"type":"text"},"encoding":{"x":{"datum":0.418,"type":"quantitative","axis":null},"y":{"datum":0.145,"type":"quantitative","axis":null},"text":{"value":"Overall AUC = 0.7421"}}}
   ]},
  {"width":425,"height":289,"title":{"text":"False Positive Rate (1 – Specificity)","orient":"bottom","frame":"bounds","offset":8},
   "data":{"name":"d3b"},
   "resolve":{"scale":{"shape":"independent"},"axis":{"x":"independent","y":"independent"}},
   "layer":[
    {"data":{"values":[{}]},"mark":{"type":"rect","filled":false,"color":"black","strokeWidth":3,"clip":false},
     "encoding":{"x":{"datum":-0.1906,"type":"quantitative","axis":null},"x2":{"datum":1.1059},"y":{"datum":1.0588,"type":"quantitative","axis":null},"y2":{"datum":-0.2388}}},
    {"data":{"values":[{}]},"mark":{"type":"rule","color":"#999","strokeDash":[4,3],"strokeWidth":1},
     "encoding":{"x":{"datum":0,"type":"quantitative","axis":null},"y":{"datum":0,"type":"quantitative","axis":null},"x2":{"datum":1},"y2":{"datum":1}}},
    {"mark":{"type":"line","color":"#8c8c8c","strokeWidth":1.6},
     "encoding":{"x":{"field":"x","type":"quantitative","scale":{"domain":[0,1],"nice":false,"zero":false},"axis":{"values":[0,0.1,0.2,0.3,0.4,0.5,0.6,0.7,0.8,0.9,1],"format":".1~f","title":null,"grid":true,"labelFlush":false,"labelOverlap":false,"tickSize":5,"labelPadding":14}},
      "y":{"field":"y","type":"quantitative","scale":{"domain":[0,1],"nice":false,"zero":false},"axis":{"values":[0,0.1,0.2,0.3,0.4,0.5,0.6,0.7,0.8,0.9,1],"format":".1~f","title":null,"grid":true,"labelFlush":false,"labelOverlap":false,"tickSize":5,"labelPadding":11}},
      "detail":{"field":"s"},"order":[{"field":"x"},{"field":"y"}]}},
    {"mark":{"type":"point","filled":true,"color":"black","opacity":1},
     "encoding":{"x":{"field":"x","type":"quantitative","axis":null},"y":{"field":"y","type":"quantitative","axis":null},
      "shape":{"field":"s","scale":{"domain":["Pos-Neg","Int-Neg","Pos-Int"],"range":["circle","square","triangle-up"]},"legend":null},
      "size":{"field":"s","scale":{"domain":["Pos-Neg","Int-Neg","Pos-Int"],"range":[68,75,90]},"legend":null}}},
    {"transform":[{"filter":"datum.x > 1"}],"mark":{"type":"point","filled":true,"color":"black","stroke":"black","strokeWidth":1.2},
     "encoding":{"x":{"field":"x","type":"quantitative","axis":null},"y":{"field":"y","type":"quantitative","axis":null},
      "shape":{"field":"s","scale":{"domain":["Pos-Neg","Int-Neg","Pos-Int"],"range":["M-1,0H1M0.42,0A0.42,0.42,0,1,1,-0.42,0A0.42,0.42,0,1,1,0.42,0Z","M-1,0H1M-0.37,-0.37H0.37V0.37H-0.37Z","M-1,0H1M0,-0.45L0.43,0.31L-0.43,0.31Z"]},
       "legend":{"orient":"none","legendX":66,"legendY":323,"direction":"horizontal","title":null,"symbolSize":484,"encode":{"symbols":{"update":{"size":{"value":484},"stroke":{"value":"black"},"fill":{"value":"black"},"strokeWidth":{"value":1.3},"opacity":{"value":1}}}}}}}},
    {"data":{"values":[{}]},"mark":{"type":"text"},"encoding":{"x":{"datum":0.129,"type":"quantitative","axis":null},"y":{"datum":0.705,"type":"quantitative","axis":null},"text":{"value":"Pos-Neg AUC = 0.8414"}}},
    {"data":{"values":[{}]},"mark":{"type":"text"},"encoding":{"x":{"datum":0.129,"type":"quantitative","axis":null},"y":{"datum":0.434,"type":"quantitative","axis":null},"text":{"value":"Int-Neg AUC = 0.7726"}}},
    {"data":{"values":[{}]},"mark":{"type":"text"},"encoding":{"x":{"datum":0.274,"type":"quantitative","axis":null},"y":{"datum":0.34,"type":"quantitative","axis":null},"text":{"value":"Pos-Int AUC = 0.5869"}}},
    {"data":{"values":[{}]},"mark":{"type":"text"},"encoding":{"x":{"datum":0.415,"type":"quantitative","axis":null},"y":{"datum":0.151,"type":"quantitative","axis":null},"text":{"value":"Overall AUC = 0.7336"}}}
   ]},
  {"width":426,"height":289,
   "data":{"name":"n3b"},
   "resolve":{"scale":{"shape":"independent"},"axis":{"x":"independent","y":"independent"}},
   "layer":[
    {"data":{"values":[{}]},"mark":{"type":"rect","filled":false,"color":"black","strokeWidth":3,"clip":false},
     "encoding":{"x":{"datum":-0.1596,"type":"quantitative","axis":null},"x2":{"datum":1.0634},"y":{"datum":1.0588,"type":"quantitative","axis":null},"y2":{"datum":-0.2388}}},
    {"data":{"values":[{}]},"mark":{"type":"rule","color":"#999","strokeDash":[4,3],"strokeWidth":1},
     "encoding":{"x":{"datum":0,"type":"quantitative","axis":null},"y":{"datum":0,"type":"quantitative","axis":{"orient":"right","title":["3 activity classes","(1-against-1)"],"titleFont":"Liberation Serif","titleFontSize":33,"titleFontWeight":"bold","titleColor":"black","titleAngle":90,"titlePadding":46,"titleLineHeight":27,"titleY":182,"labels":false,"ticks":false,"domain":false,"grid":false}},"x2":{"datum":1},"y2":{"datum":1}}},
    {"mark":{"type":"line","color":"#8c8c8c","strokeWidth":1.6},
     "encoding":{"x":{"field":"x","type":"quantitative","scale":{"domain":[0,1],"nice":false,"zero":false},"axis":{"values":[0,0.1,0.2,0.3,0.4,0.5,0.6,0.7,0.8,0.9,1],"format":".1~f","title":null,"grid":true,"labelFlush":false,"labelOverlap":false,"tickSize":5,"labelPadding":14}},
      "y":{"field":"y","type":"quantitative","scale":{"domain":[0,1],"nice":false,"zero":false},"axis":{"values":[0,0.1,0.2,0.3,0.4,0.5,0.6,0.7,0.8,0.9,1],"format":".1~f","title":null,"grid":true,"labelFlush":false,"labelOverlap":false,"tickSize":5,"labelPadding":11}},
      "detail":{"field":"s"},"order":[{"field":"x"},{"field":"y"}]}},
    {"mark":{"type":"point","filled":true,"color":"black","opacity":1},
     "encoding":{"x":{"field":"x","type":"quantitative","axis":null},"y":{"field":"y","type":"quantitative","axis":null},
      "shape":{"field":"s","scale":{"domain":["Pos-Neg","Int-Neg","Pos-Int"],"range":["circle","square","triangle-up"]},"legend":null},
      "size":{"field":"s","scale":{"domain":["Pos-Neg","Int-Neg","Pos-Int"],"range":[68,75,90]},"legend":null}}},
    {"transform":[{"filter":"datum.x > 1"}],"mark":{"type":"point","filled":true,"color":"black","stroke":"black","strokeWidth":1.2},
     "encoding":{"x":{"field":"x","type":"quantitative","axis":null},"y":{"field":"y","type":"quantitative","axis":null},
      "shape":{"field":"s","scale":{"domain":["Pos-Neg","Int-Neg","Pos-Int"],"range":["M-1,0H1M0.42,0A0.42,0.42,0,1,1,-0.42,0A0.42,0.42,0,1,1,0.42,0Z","M-1,0H1M-0.37,-0.37H0.37V0.37H-0.37Z","M-1,0H1M0,-0.45L0.43,0.31L-0.43,0.31Z"]},
       "legend":{"orient":"none","legendX":67,"legendY":323,"direction":"horizontal","title":null,"symbolSize":484,"encode":{"symbols":{"update":{"size":{"value":484},"stroke":{"value":"black"},"fill":{"value":"black"},"strokeWidth":{"value":1.3},"opacity":{"value":1}}}}}}}},
    {"data":{"values":[{}]},"mark":{"type":"text"},"encoding":{"x":{"datum":0.019,"type":"quantitative","axis":null},"y":{"datum":0.938,"type":"quantitative","axis":null},"text":{"value":"Int-Neg AUC = 0.7511"}}},
    {"data":{"values":[{}]},"mark":{"type":"text"},"encoding":{"x":{"datum":0.094,"type":"quantitative","axis":null},"y":{"datum":0.54,"type":"quantitative","axis":null},"text":{"value":"Pos-Neg AUC = 0.7877"}}},
    {"data":{"values":[{}]},"mark":{"type":"text"},"encoding":{"x":{"datum":0.241,"type":"quantitative","axis":null},"y":{"datum":0.332,"type":"quantitative","axis":null},"text":{"value":"Pos-Int AUC = 0.6225"}}},
    {"data":{"values":[{}]},"mark":{"type":"text"},"encoding":{"x":{"datum":0.425,"type":"quantitative","axis":null},"y":{"datum":0.137,"type":"quantitative","axis":null},"text":{"value":"Overall AUC = 0.7204"}}}
   ]}
 ]}
]
}
